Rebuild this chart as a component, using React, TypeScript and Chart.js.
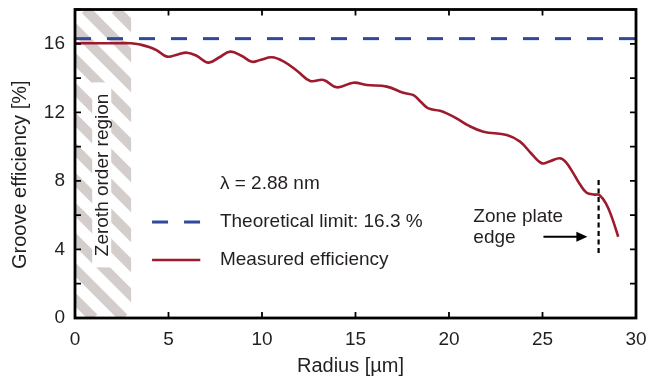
import { useEffect, useRef } from "react";
import { Chart, registerables } from "chart.js";

Chart.register(...registerables);

// ---- data ----
const radiusUm = [
  0, 1, 2, 3, 3.5, 4.0, 4.38, 4.92, 5.5, 5.99, 6.5, 7.14, 7.7, 8.3, 8.9, 9.46, 9.9,
  10.53, 11.15, 11.9, 12.58, 13.29, 14.0, 14.89, 15.6, 16.68, 17.56, 18.1, 18.5, 18.9,
  19.52, 19.88, 20.4, 21.0, 21.84, 23.09, 23.8, 24.4, 24.96, 25.4, 25.93, 26.25, 26.65,
  27.0, 27.36, 27.8, 28.04, 28.39, 28.7, 29.05,
];
const efficiencyPct = [
  16.03, 16.03, 16.03, 16.03, 15.95, 15.8, 15.62, 15.25, 15.38, 15.48, 15.3, 14.9, 15.2,
  15.54, 15.3, 14.95, 15.05, 15.21, 14.97, 14.4, 13.83, 13.89, 13.46, 13.73, 13.59, 13.5,
  13.14, 13.0, 12.6, 12.23, 12.09, 11.94, 11.65, 11.25, 10.87, 10.68, 10.29, 9.6, 9.03,
  9.15, 9.32, 9.1, 8.44, 7.8, 7.31, 7.2, 7.18, 6.69, 5.9, 4.74,
];
const theoreticalLimit = 16.3;
const limitRange = [0, 30];
const xTickValues = [0, 5, 10, 15, 20, 25, 30];
const yTickValues = [0, 4, 8, 12, 16];
const yMinorValues = [0, 2, 4, 6, 8, 10, 12, 14, 16, 18];
const zerothRegionEnd = 3;
const zoneEdgeX = 28;
const zoneEdgeRange = [3.79, 8.24];
const arrowRange = [25.05, 27.4];
const arrowLevel = 4.74;

const wavelengthLabel = "λ = 2.88 nm";
const limitLabel = "Theoretical limit: 16.3 %";
const measuredLabel = "Measured efficiency";
const zeroLabel = "Zeroth order region";
const edgeLabel = ["Zone plate", "edge"];
const xTitle = "Radius [µm]";
const yTitle = "Groove efficiency [%]";

const FONT = '"Liberation Sans", Arial, Helvetica, sans-serif';
const INK = "#231f20";
const RED = "#9e1b2d";
const BLUE = "#2f4a9a";
const HATCH = "#d3cecb";

const decor = {
  id: "decor",
  beforeDatasetsDraw(chart: any) {
    const { ctx, chartArea: a, scales } = chart;
    const x = scales.x, y = scales.y;
    const x0 = x.getPixelForValue(0);
    const x3 = x.getPixelForValue(zerothRegionEnd);
    ctx.save();
    ctx.beginPath();
    ctx.rect(x0, a.top, x3 - x0, a.bottom - a.top);
    ctx.clip();
    ctx.strokeStyle = HATCH;
    ctx.lineWidth = 10;
    const H = a.bottom - a.top;
    const period = 30;
    for (let s = x0 + 10.3 - period * 12; s < x3 + period; s += period) {
      ctx.beginPath();
      ctx.moveTo(s, a.top);
      ctx.lineTo(s + H, a.bottom);
      ctx.stroke();
    }
    ctx.restore();

    // label box
    const cx = x.getPixelForValue(1.43);
    const cy = y.getPixelForValue(8.35);
    ctx.save();
    ctx.fillStyle = "#ffffff";
    ctx.fillRect(cx - 9.5, cy - 92.5, 19, 185);
    ctx.translate(cx + 1, cy);
    ctx.rotate(-Math.PI / 2);
    ctx.fillStyle = INK;
    ctx.font = `19px ${FONT}`;
    ctx.textAlign = "center";
    ctx.textBaseline = "middle";
    ctx.fillText(zeroLabel, 0, 0);
    ctx.restore();
  },
  afterDatasetsDraw(chart: any) {
    const { ctx, chartArea: a, scales } = chart;
    const x = scales.x, y = scales.y;
    ctx.save();
    // frame
    ctx.strokeStyle = "#000";
    ctx.lineWidth = 2.8;
    ctx.strokeRect(a.left, a.top, a.right - a.left, a.bottom - a.top);
    // inward ticks
    ctx.lineWidth = 1.8;
    ctx.beginPath();
    xTickValues.forEach((v) => {
      const px = x.getPixelForValue(v);
      ctx.moveTo(px, a.bottom);
      ctx.lineTo(px, a.bottom - 6);
      ctx.moveTo(px, a.top);
      ctx.lineTo(px, a.top + 6);
    });
    yMinorValues.forEach((v) => {
      const py = y.getPixelForValue(v);
      ctx.moveTo(a.left, py);
      ctx.lineTo(a.left + 6, py);
      ctx.moveTo(a.right, py);
      ctx.lineTo(a.right - 6, py);
    });
    ctx.stroke();

    // legend
    ctx.font = `19px ${FONT}`;
    ctx.fillStyle = INK;
    ctx.textAlign = "left";
    ctx.textBaseline = "middle";
    const lx0 = x.getPixelForValue(4.12);
    const lx1 = x.getPixelForValue(6.7);
    const tx = x.getPixelForValue(7.75);
    const yL = y.getPixelForValue(7.86);
    const yD = y.getPixelForValue(5.6);
    const yM = y.getPixelForValue(3.38);
    ctx.fillText(wavelengthLabel, tx, yL);
    ctx.fillText(limitLabel, tx, yD);
    ctx.fillText(measuredLabel, tx, yM);
    ctx.strokeStyle = BLUE;
    ctx.lineWidth = 3;
    ctx.setLineDash([16, 16]);
    ctx.beginPath();
    ctx.moveTo(lx0, yD);
    ctx.lineTo(lx1, yD);
    ctx.stroke();
    ctx.setLineDash([]);
    ctx.strokeStyle = RED;
    ctx.lineWidth = 2.6;
    ctx.beginPath();
    ctx.moveTo(lx0, yM);
    ctx.lineTo(lx1, yM);
    ctx.stroke();

    // zone plate edge annotation
    const ex = x.getPixelForValue(21.3);
    ctx.fillStyle = INK;
    ctx.fillText(edgeLabel[0], ex, y.getPixelForValue(5.92));
    ctx.fillText(edgeLabel[1], ex, y.getPixelForValue(4.66));
    const ax0 = x.getPixelForValue(arrowRange[0]);
    const ax1 = x.getPixelForValue(arrowRange[1]);
    const ay = y.getPixelForValue(arrowLevel);
    ctx.strokeStyle = "#000";
    ctx.lineWidth = 2;
    ctx.beginPath();
    ctx.moveTo(ax0, ay);
    ctx.lineTo(ax1 - 8, ay);
    ctx.stroke();
    ctx.fillStyle = "#000";
    ctx.beginPath();
    ctx.moveTo(ax1, ay);
    ctx.lineTo(ax1 - 11, ay - 5);
    ctx.lineTo(ax1 - 11, ay + 5);
    ctx.closePath();
    ctx.fill();

    // axis titles
    ctx.fillStyle = INK;
    ctx.font = `20px ${FONT}`;
    ctx.textAlign = "center";
    ctx.textBaseline = "middle";
    ctx.fillText(xTitle, (a.left + a.right) / 2 - 5, 366);
    ctx.save();
    ctx.translate(20, (a.top + a.bottom) / 2 + 11);
    ctx.rotate(-Math.PI / 2);
    ctx.fillText(yTitle, 0, 0);
    ctx.restore();
    ctx.restore();
  },
};

export default function App() {
  const ref = useRef<HTMLCanvasElement | null>(null);
  useEffect(() => {
    document.body.style.margin = "0";
    if (!ref.current) return;
    const chart = new Chart(ref.current, {
      type: "line",
      data: {
        datasets: [
          {
            label: measuredLabel,
            data: radiusUm.map((r, i) => ({ x: r, y: efficiencyPct[i] })),
            borderColor: RED,
            borderWidth: 2.6,
            pointRadius: 0,
            tension: 0.4,
            fill: false,
          },
          {
            label: limitLabel,
            data: limitRange.map((r) => ({ x: r, y: theoreticalLimit })),
            borderColor: BLUE,
            borderWidth: 3,
            borderDash: [16, 16],
            pointRadius: 0,
            fill: false,
          },
          {
            label: "edge",
            data: zoneEdgeRange.map((v) => ({ x: zoneEdgeX, y: v })),
            borderColor: "#000",
            borderWidth: 2.2,
            borderDash: [5, 3.5],
            pointRadius: 0,
            fill: false,
          },
        ],
      },
      options: {
        animation: false,
        responsive: false,
        devicePixelRatio: 1,
        layout: { padding: { top: 9.5, right: 12, left: 0, bottom: 0 } },
        plugins: { legend: { display: false }, tooltip: { enabled: false } },
        scales: {
          x: {
            type: "linear",
            min: 0,
            max: 30,
            grid: { display: false, drawTicks: false },
            border: { display: false },
            ticks: { font: { family: FONT, size: 19 }, color: INK, padding: 10, maxRotation: 0 },
            afterBuildTicks: (s: any) => {
              s.ticks = xTickValues.map((v) => ({ value: v }));
            },
            afterFit: (s: any) => {
              s.height = 63;
              s.paddingLeft = 0;
              s.paddingRight = 0;
              s.paddingTop = 0;
              s.paddingBottom = 0;
            },
          },
          y: {
            type: "linear",
            min: 0,
            max: 18,
            grid: { display: false, drawTicks: false },
            border: { display: false },
            ticks: { font: { family: FONT, size: 19 }, color: INK, padding: 10 },
            afterBuildTicks: (s: any) => {
              s.ticks = yTickValues.map((v) => ({ value: v }));
            },
            afterFit: (s: any) => {
              s.width = 75;
              s.paddingLeft = 0;
              s.paddingRight = 0;
              s.paddingTop = 0;
              s.paddingBottom = 0;
            },
          },
        },
      },
      plugins: [decor],
    });
    return () => chart.destroy();
  }, []);
  return (
    <div style={{ position: "fixed", left: 0, top: 0, width: 648, height: 381 }}>
      <canvas ref={ref} width={648} height={381} />
    </div>
  );
}
